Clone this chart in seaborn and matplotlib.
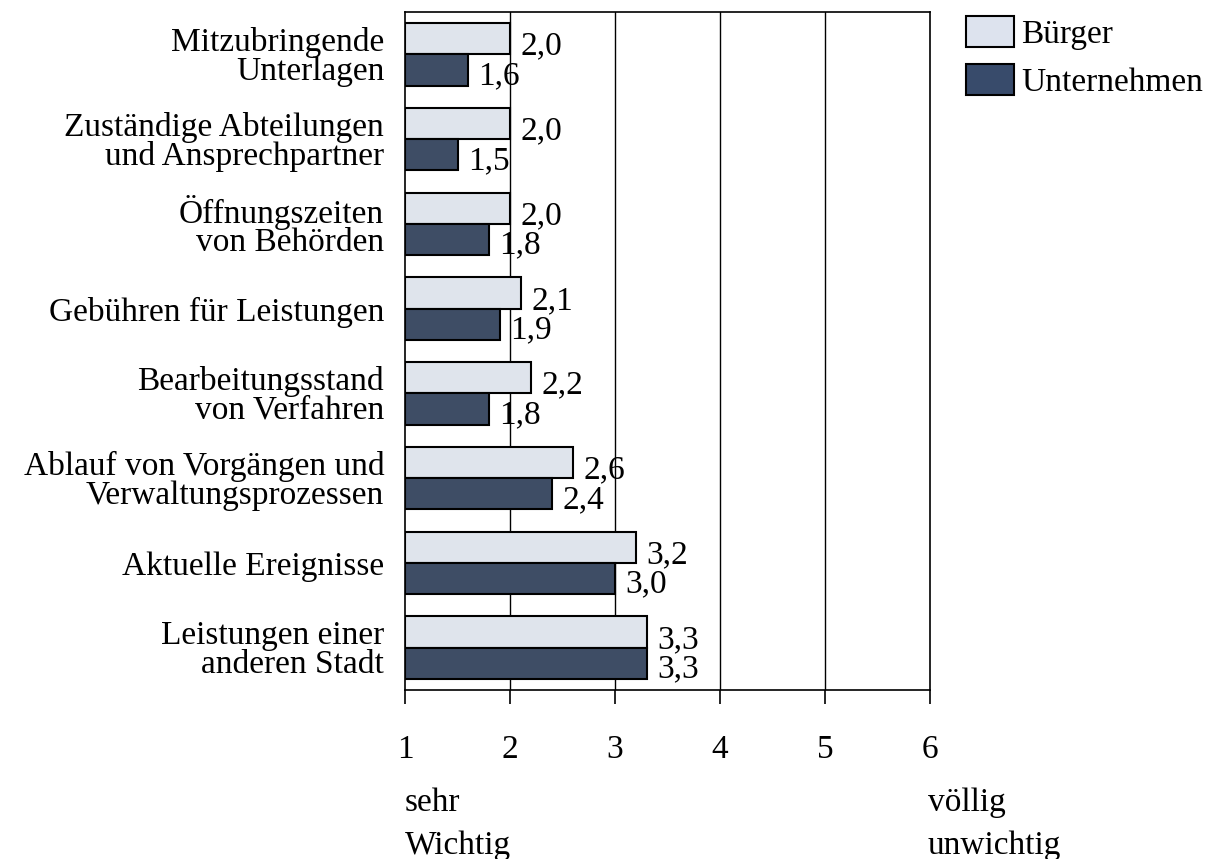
import matplotlib
matplotlib.use("Agg")
import matplotlib.pyplot as plt
from matplotlib.patches import Patch
import seaborn as sns
import pandas as pd

categories = [
    "Mitzubringende\nUnterlagen",
    "Zuständige Abteilungen\nund Ansprechpartner",
    "Öffnungszeiten\nvon Behörden",
    "Gebühren für Leistungen",
    "Bearbeitungsstand\nvon Verfahren",
    "Ablauf von Vorgängen und\nVerwaltungsprozessen",
    "Aktuelle Ereignisse",
    "Leistungen einer\nanderen Stadt",
]
buerger = [2.0, 2.0, 2.0, 2.1, 2.2, 2.6, 3.2, 3.3]
unternehmen = [1.6, 1.5, 1.8, 1.9, 1.8, 2.4, 3.0, 3.3]
series = ["Bürger", "Unternehmen"]
colors = ["#dde3ee", "#384b6b"]
xticks = [1, 2, 3, 4, 5, 6]

df = pd.DataFrame({
    "Kategorie": categories * 2,
    "Wert": buerger + unternehmen,
    "Gruppe": [series[0]] * len(categories) + [series[1]] * len(categories),
})

sns.set_style("white")
plt.rcParams["font.family"] = ["Liberation Serif", "DejaVu Serif"]
plt.rcParams["text.color"] = "black"
plt.rcParams["xtick.color"] = "black"
plt.rcParams["ytick.color"] = "black"
plt.rcParams["xtick.bottom"] = True

FS = 24

fig = plt.figure(figsize=(12.21, 8.59), dpi=100)
ax = fig.add_axes([405 / 1221, 1 - 690 / 859, 525 / 1221, 678 / 859])

sns.barplot(data=df, y="Kategorie", x="Wert", hue="Gruppe", orient="h",
            palette=colors, width=0.74, edgecolor="black", linewidth=1.5,
            legend=False, ax=ax, zorder=3)

# the scale starts at 1, so bars grow from 1
for patch in ax.patches:
    w = patch.get_width()
    patch.set_x(1)
    patch.set_width(w - 1)

ax.set_xlim(1, 6)
ax.set_ylim(len(categories) - 0.5, -0.5)
ax.set_xticks(xticks)
ax.set_xticklabels([str(t) for t in xticks], fontsize=FS)
ax.tick_params(axis="x", bottom=True, direction="out", length=10, width=1.2,
               pad=22, color="black", labelcolor="black")
ax.tick_params(axis="y", length=0, pad=15, labelsize=FS, labelcolor="black")
for lbl in ax.get_yticklabels():
    lbl.set_linespacing(0.93)
ax.set_xlabel("")
ax.set_ylabel("")

for x in xticks[1:-1]:
    ax.axvline(x, color="black", linewidth=1.0, zorder=1)

for spine in ax.spines.values():
    spine.set_visible(True)
    spine.set_color("black")
    spine.set_linewidth(1.2)

# value labels
for containers, vals, dy in zip(ax.containers, [buerger, unternehmen], [0.09, 0.07]):
    for bar, v in zip(containers, vals):
        yc = bar.get_y() + bar.get_height() / 2
        ax.text(v + 0.1, yc + dy, f"{v:.1f}".replace(".", ","),
                ha="left", va="center", fontsize=FS, zorder=4)

handles = [Patch(facecolor=c, edgecolor="black", linewidth=1.5) for c in colors]
fig.legend(handles, series, loc="upper left", bbox_to_anchor=(966 / 1221, 1 - 16 / 859),
           frameon=False, fontsize=FS, handlelength=1.45, handleheight=1.06,
           handletextpad=0.2, labelspacing=0.42, borderaxespad=0, borderpad=0)

fig.text(405 / 1221, 1 - 824 / 859, "sehr\nWichtig", ha="left", va="center",
         fontsize=FS, linespacing=1.55)
fig.text(928 / 1221, 1 - 824 / 859, "völlig\nunwichtig", ha="left", va="center",
         fontsize=FS, linespacing=1.55)

fig.savefig("out.png", dpi=100, facecolor="white")
